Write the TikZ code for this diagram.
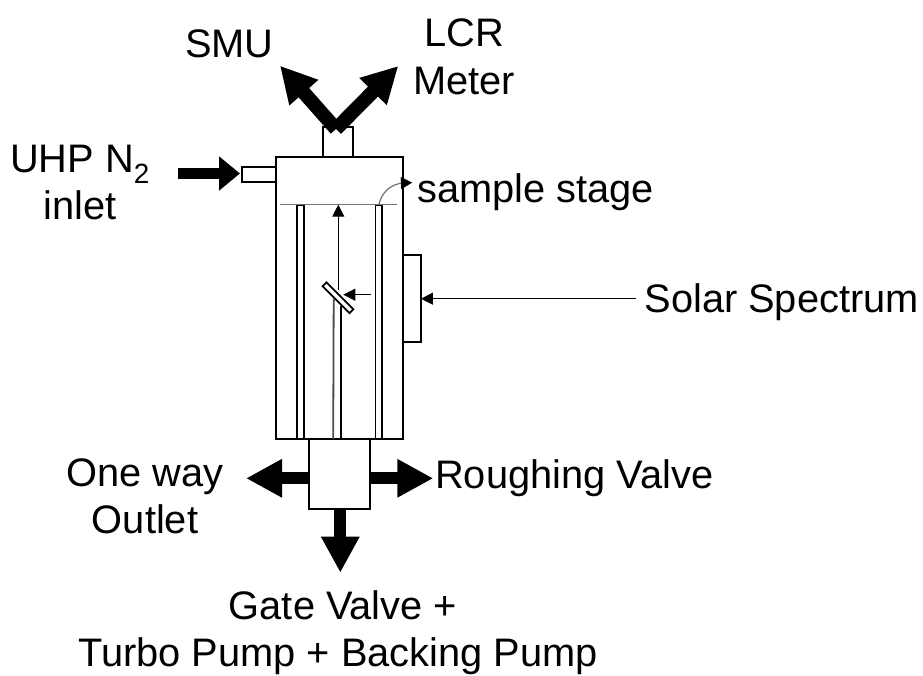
\documentclass[tikz,border=0pt]{standalone}
\usepackage{fontspec}
\setmainfont{Liberation Sans}
\usetikzlibrary{arrows.meta}
\tikzset{
    box/.style={draw, line width=2pt, inner sep=0pt, outer sep=0pt},
    lbl/.style={font=\fontsize{39.8}{47}\selectfont, align=center, inner sep=0pt},
    bigarrow/.style={line width=12pt, -{Triangle[length=36pt,width=36pt]}},
    midarrow/.style={line width=14pt, -{Triangle[length=36pt,width=36pt]}},
    thinarrow/.style={line width=1pt, -{Triangle[length=12pt,width=12pt]}},
}

\begin{document}
\begin{tikzpicture}[x=1pt,y=-1pt]
    \useasboundingbox (0,0) rectangle (923,676);
    % vessel
    \node[box, minimum width=127pt, minimum height=282pt] (chamber) at (339.3,298) {};
    \node[box, minimum width=30.6pt, minimum height=30pt] (port) at (338,142.3) {};
    \node[box, minimum width=34.3pt, minimum height=15pt] (inlet) at (258.8,174.2) {};
    \node[box, minimum width=18.3pt, minimum height=86.7pt] (window) at (411.8,298.3) {};
    \node[box, minimum width=61pt, minimum height=70.3pt] (valves) at (339.8,474.2) {};
    % inner tubes
    \node[box, line width=1.7pt, minimum width=7.3pt, minimum height=234.3pt] (tubeL) at (300.6,321.9) {};
    \node[box, line width=1.7pt, minimum width=6.7pt, minimum height=234.3pt] (tubeR) at (378.7,321.9) {};
    % stage and holder
    \coordinate (stageL) at (280,204.7);
    \coordinate (stageR) at (396.7,204.7);
    \coordinate (stageC) at (338.3,204.7);
    \draw[line width=1.3pt, black!55] (stageL) -- (stageR);
    \coordinate (postLt) at (333.7,299);
    \coordinate (postLb) at (333.2,439);
    \coordinate (postRt) at (340.7,306);
    \coordinate (postRb) at (340.7,439);
    \draw[line width=1.8pt, black!70] (postLt) -- (postLb);
    \draw[line width=1.7pt] (postRt) -- (postRb);
    \node[box, fill=white, line width=1.7pt, rotate=-45, minimum width=38pt, minimum height=5.5pt] (mirror) at (338,297.8) {};
    % thin beams
    \coordinate (beamUp) at (338.3,290);
    \draw[thinarrow] (beamUp) -- (stageC);
    \coordinate (beamIn) at (371,294.7);
    \coordinate (beamOut) at (343.3,294.7);
    \draw[thinarrow] (beamIn) -- (beamOut);
    % labels
    \node[lbl] (smu) at (229.5,44) {SMU};
    \node[lbl] (lcr) at (464,57) {LCR\\[1pt]Meter};
    \node[lbl] (uhp) at (80,183) {UHP N\textsubscript{2}\\inlet};
    \node[lbl, anchor=west] (stage) at (417,192) {sample stage};
    \node[lbl, anchor=east] (solar) at (919,302) {Solar Spectrum};
    \node[lbl] (oneway) at (145,496) {One way\\Outlet};
    \node[lbl, anchor=west] (rough) at (435,478) {Roughing Valve};
    \node[lbl] (gate) at (338,632.5) {\hspace*{10pt}Gate Valve +\\Turbo Pump + Backing Pump};
    % sample stage pointer
    \coordinate (curveS) at (379,204);
    \coordinate (curveE) at (412,182.7);
    \draw[line width=1.2pt, black!55] (curveS) .. controls (382,192) and (391,184) .. (403,183);
    \draw[line width=0.1pt, -{Triangle[length=11pt,width=12pt]}] (403,183) -- (curveE);
    % solar arrow
    \coordinate (sunL) at (636,298.7);
    \draw[thinarrow] (sunL) -- (window.east |- sunL);
    % gas lines
    \coordinate (n2src) at (178,173.5);
    \coordinate (n2tip) at (240,173.5);
    \draw[line width=11pt, -{Triangle[length=21pt,width=33pt]}] (n2src) -- (n2tip);
    \coordinate (vee) at (336,129);
    \coordinate (smuTip) at (280,65.7);
    \coordinate (lcrTip) at (398.3,66);
    \draw[midarrow] (vee) -- (smuTip);
    \draw[midarrow] (vee) -- (lcrTip);
    \coordinate (outTip) at (246,478.3);
    \coordinate (roughTip) at (433.3,478.3);
    \coordinate (gateTip) at (340.3,572.7);
    \draw[bigarrow] (valves.west |- outTip) -- (outTip);
    \draw[bigarrow] (valves.east |- roughTip) -- (roughTip);
    \draw[bigarrow] (valves.south -| gateTip) -- (gateTip);
\end{tikzpicture}
\end{document}
